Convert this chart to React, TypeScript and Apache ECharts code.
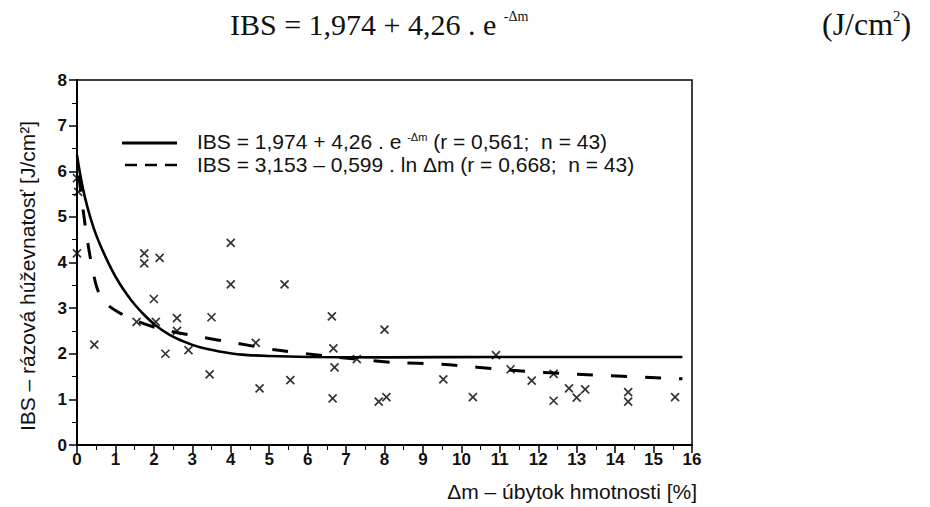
import React, { useEffect, useRef } from "react";
import * as echarts from "echarts";

// Measured points (Δm [%], IBS [J/cm²])
const pointsX = [0, 0.03, 0, 0.45, 1.75, 1.75, 2.15, 2.0, 1.55, 2.05, 2.6, 2.6, 2.3, 2.9, 3.5, 3.45, 4.0, 4.0, 5.4, 4.65, 4.75, 5.55, 6.63, 6.67, 6.7, 6.65, 7.28, 7.85, 8.05, 8.0, 9.53, 10.3, 10.9, 11.28, 11.83, 12.4, 12.4, 12.8, 13.0, 13.22, 14.34, 14.34, 15.56];
const pointsY = [5.85, 5.55, 4.2, 2.2, 4.2, 3.98, 4.1, 3.2, 2.7, 2.7, 2.78, 2.5, 2.0, 2.08, 2.8, 1.55, 4.43, 3.52, 3.52, 2.24, 1.24, 1.42, 2.82, 2.12, 1.7, 1.02, 1.88, 0.95, 1.05, 2.53, 1.44, 1.05, 1.97, 1.66, 1.41, 1.56, 0.97, 1.24, 1.04, 1.22, 1.16, 0.95, 1.05];

// Exponential fit curve
const expX = [0, 0.1, 0.2, 0.35, 0.5, 0.7, 0.9, 1.1, 1.3, 1.5, 1.75, 2.05, 2.4, 2.8, 3.2, 3.7, 4.3, 5.0, 6.0, 8.0, 11.0, 15.75];
const expY = [6.35, 5.85, 5.45, 4.98, 4.6, 4.2, 3.85, 3.55, 3.3, 3.08, 2.85, 2.62, 2.42, 2.26, 2.14, 2.05, 1.98, 1.95, 1.93, 1.92, 1.93, 1.93];

// Logarithmic fit curve
const lnX = [0.05, 0.12, 0.25, 0.38, 0.5, 0.6, 0.75, 1.1, 1.55, 2.15, 3.2, 4.1, 5.2, 6.5, 8.2, 9.5, 11.3, 13.0, 15.75];
const lnY = [5.9, 5.4, 4.6, 3.95, 3.5, 3.28, 3.1, 2.9, 2.72, 2.55, 2.37, 2.24, 2.08, 1.95, 1.81, 1.77, 1.64, 1.55, 1.45];

export default function App() {
  const ref = useRef<HTMLDivElement>(null);
  useEffect(() => {
    if (!ref.current) return;
    const chart = echarts.init(ref.current, null, { renderer: "svg" });
    const sans = "'Liberation Sans', Arial, sans-serif";
    const serif = "'Liberation Serif', 'DejaVu Serif', serif";
    const tickFont = { fontFamily: "'Liberation Sans Narrow', 'Liberation Sans', Arial, sans-serif", fontWeight: "bold" as const, fontSize: 17, color: "#111" };
    chart.setOption({
      animation: false,
      backgroundColor: "#fff",
      grid: { left: 77, right: 238, top: 80, bottom: 62, show: true, borderColor: "#000", borderWidth: 1.5, containLabel: false },
      xAxis: {
        type: "value", min: 0, max: 16, interval: 1,
        axisLine: { show: true, onZero: false, lineStyle: { color: "#000", width: 2 } },
        axisTick: { show: true, length: 8, lineStyle: { color: "#000", width: 1.5 } },
        minorTick: { show: true, splitNumber: 2, length: 5, lineStyle: { color: "#000", width: 1 } },
        splitLine: { show: false },
        axisLabel: { ...tickFont, margin: 6 },
      },
      yAxis: {
        type: "value", min: 0, max: 8, interval: 1,
        axisLine: { show: true, onZero: false, lineStyle: { color: "#000", width: 2 } },
        axisTick: { show: true, length: 8, lineStyle: { color: "#000", width: 1.5 } },
        minorTick: { show: true, splitNumber: 2, length: 5, lineStyle: { color: "#000", width: 1 } },
        splitLine: { show: false },
        axisLabel: { ...tickFont, margin: 10 },
      },
      series: [
        {
          name: "data", type: "scatter",
          symbol: "path://M0,0L10,10M10,0L0,10",
          symbolSize: 8,
          itemStyle: { color: "rgba(0,0,0,0)", borderColor: "#000", borderWidth: 1.7 },
          data: pointsX.map((x, i) => [x, pointsY[i]]),
          z: 3,
        },
        {
          name: "exp", type: "line", smooth: 0.3, symbol: "none", showSymbol: false,
          lineStyle: { color: "#000", width: 2.6, type: "solid" },
          data: expX.map((x, i) => [x, expY[i]]),
          z: 2,
        },
        {
          name: "ln", type: "line", smooth: 0.3, symbol: "none", showSymbol: false,
          lineStyle: { color: "#000", width: 3, type: [16, 18] },
          data: lnX.map((x, i) => [x, lnY[i]]),
          z: 2,
        },
      ],
      graphic: [
        {
          type: "text", left: 230, top: 9,
          style: {
            text: "{m|IBS = 1,974 + 4,26 . e }{s|-Δm}",
            rich: {
              m: { fontFamily: serif, fontSize: 30, fill: "#111" },
              s: { fontFamily: serif, fontSize: 14, fill: "#111", verticalAlign: "top", padding: [0, 0, 14, 0] },
            },
          },
        },
        {
          type: "text", left: 822, top: 8,
          style: {
            text: "{m|(J/cm}{s|2}{m|)}",
            rich: {
              m: { fontFamily: serif, fontSize: 32, fill: "#111" },
              s: { fontFamily: serif, fontSize: 15, fill: "#111", verticalAlign: "top", padding: [0, 0, 14, 0] },
            },
          },
        },
        // legend
        { type: "line", shape: { x1: 122, y1: 143, x2: 177, y2: 143 }, style: { stroke: "#000", lineWidth: 3 } },
        { type: "line", shape: { x1: 125, y1: 165, x2: 177, y2: 165 }, style: { stroke: "#000", lineWidth: 2.5, lineDash: [12, 8] } },
        {
          type: "text", left: 197, top: 131,
          style: {
            text: "{t|IBS = 1,974 + 4,26 . e }{s|-Δm}{t| (r = 0,561;  n = 43)}",
            rich: {
              t: { fontFamily: sans, fontSize: 21, fill: "#111" },
              s: { fontFamily: sans, fontSize: 11, fill: "#111", verticalAlign: "top", padding: [0, 0, 10, 0] },
            },
          },
        },
        {
          type: "text", left: 197, top: 154,
          style: { text: "IBS = 3,153 – 0,599 . ln Δm (r = 0,668;  n = 43)", fontFamily: sans, fontSize: 21, fill: "#111" },
        },
        {
          type: "text", x: 27, y: 276, rotation: Math.PI / 2,
          style: { text: "IBS – rázová húževnatosť [J/cm²]", fontFamily: sans, fontSize: 21, fill: "#111", align: "center", verticalAlign: "middle" },
        },
        {
          type: "text", right: 233, top: 481,
          style: { text: "Δm – úbytok hmotnosti [%]", fontFamily: sans, fontSize: 21, fill: "#111" },
        },
      ],
    });
    return () => chart.dispose();
  }, []);
  return <div ref={ref} style={{ width: 930, height: 507, position: "absolute", left: 0, top: 0 }} />;
}
